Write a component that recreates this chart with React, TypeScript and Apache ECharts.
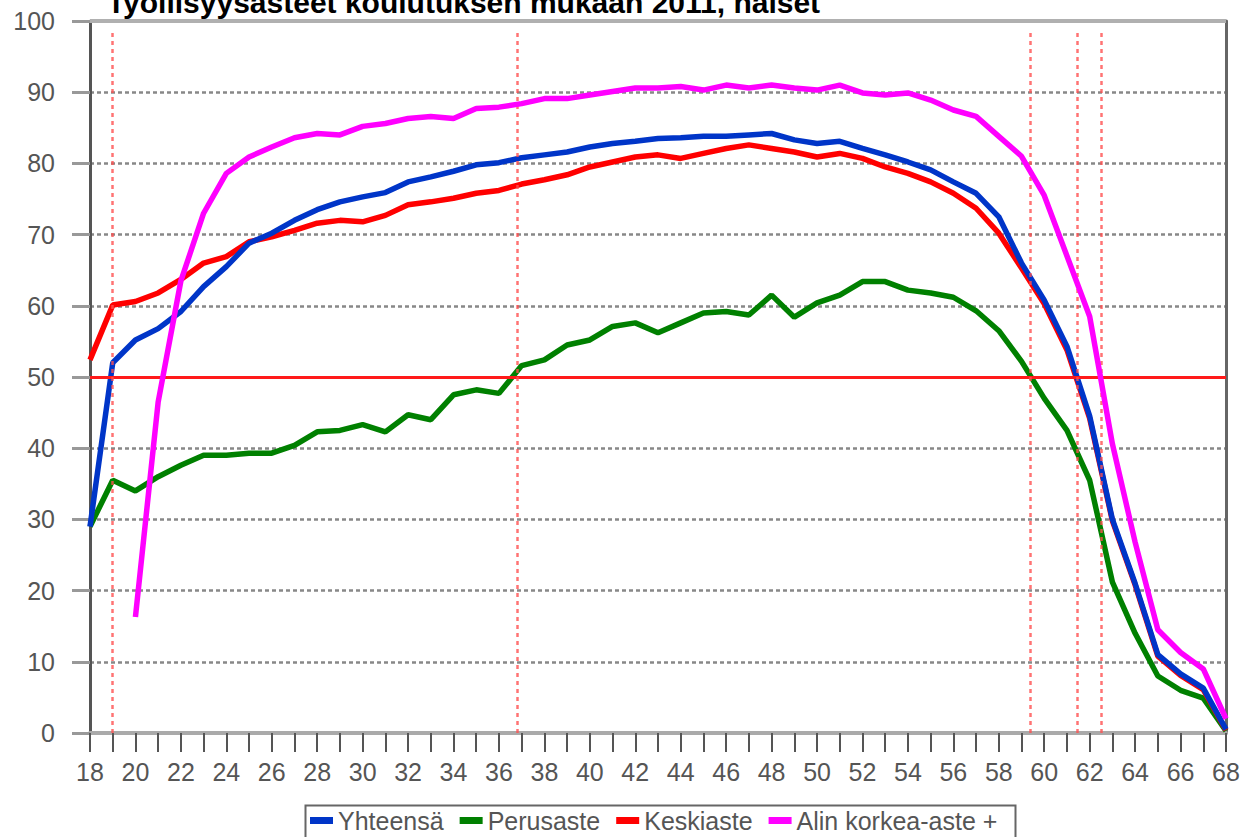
import React, { useEffect, useRef } from "react";
import * as echarts from "echarts";

const titleText = "Työllisyysasteet koulutuksen mukaan 2011, naiset";

const ages = [
  18, 19, 20, 21, 22, 23, 24, 25, 26, 27, 28, 29, 30, 31, 32, 33, 34, 35, 36, 37,
  38, 39, 40, 41, 42, 43, 44, 45, 46, 47, 48, 49, 50, 51, 52, 53, 54, 55, 56, 57,
  58, 59, 60, 61, 62, 63, 64, 65, 66, 67, 68,
];

const seriesNames = ["Yhteensä", "Perusaste", "Keskiaste", "Alin korkea-aste +"];

const yhteensa = [
  29, 52, 55.2, 56.8, 59.2, 62.7, 65.5, 68.8, 70.2, 72, 73.5, 74.6, 75.3, 75.9, 77.4, 78.1, 78.9, 79.8, 80.1, 80.8,
  81.2, 81.6, 82.3, 82.8, 83.1, 83.5, 83.6, 83.8, 83.8, 84, 84.2, 83.3, 82.8, 83.1, 82.1, 81.2, 80.2, 79.1, 77.4, 75.8,
  72.5, 66, 60.8, 54.3, 44.5, 30, 21, 11, 8.3, 6.3, 0.5,
];

const perusaste = [
  29, 35.5, 34, 36, 37.6, 39, 39, 39.3, 39.3, 40.4, 42.3, 42.5, 43.3, 42.3, 44.7, 44, 47.5, 48.2, 47.7, 51.6,
  52.4, 54.5, 55.2, 57.1, 57.6, 56.2, 57.6, 59, 59.2, 58.7, 61.5, 58.4, 60.4, 61.5, 63.4, 63.4, 62.2, 61.8, 61.2, 59.3,
  56.5, 52.2, 47, 42.5, 35.5, 21.2, 14, 8, 6, 4.9, 0.3,
];

const keskiaste = [
  52.4, 60.1, 60.6, 61.8, 63.7, 66, 66.9, 69, 69.7, 70.6, 71.6, 72, 71.8, 72.7, 74.2, 74.6, 75.1, 75.8, 76.2, 77.1,
  77.7, 78.4, 79.5, 80.2, 80.9, 81.2, 80.7, 81.4, 82.1, 82.6, 82.1, 81.6, 80.9, 81.4, 80.7, 79.5, 78.6, 77.4, 75.8, 73.7,
  70.2, 65.3, 60.3, 53.8, 44.2, 29.8, 20.8, 10.8, 8.1, 6.1, 0.4,
];

const korkea = [
  null, null, 16.3, 46.5, 63.5, 73, 78.6, 80.9, 82.3, 83.6, 84.2, 84, 85.2, 85.6, 86.3, 86.6, 86.3, 87.7, 87.9, 88.4,
  89.1, 89.1, 89.6, 90.1, 90.6, 90.6, 90.8, 90.3, 91, 90.6, 91, 90.6, 90.3, 91, 89.9, 89.6, 89.9, 88.9, 87.5, 86.6,
  83.8, 81, 75.5, 67, 58.5, 40.6, 26.8, 14.5, 11.3, 9, 2,
];

// ages where the curves cross the 50 % level (vertical reference lines)
const crossingAges = [19, 36.8, 59.4, 61.45, 62.5];
const referenceLevel = 50;

const colors = ["#0035c8", "#008000", "#ff0000", "#ff00ff"];

const xTickLabels = [18, 20, 22, 24, 26, 28, 30, 32, 34, 36, 38, 40, 42, 44, 46, 48, 50, 52, 54, 56, 58, 60, 62, 64, 66, 68];

export default function App() {
  const ref = useRef<HTMLDivElement>(null);

  useEffect(() => {
    if (!ref.current) return;
    const chart = echarts.init(ref.current, undefined, { renderer: "svg" });

    const pairs = (vals: (number | null)[]) => ages.map((a, i) => [a, vals[i]]);
    const allValues = [yhteensa, perusaste, keskiaste, korkea];
    const zs = [4, 2, 3, 5];

    const markLine = {
      silent: true,
      symbol: ["none", "none"],
      label: { show: false },
      animation: false,
      data: [
        [
          { coord: [18, referenceLevel], lineStyle: { color: "#ff1a1a", width: 3, type: "solid" } },
          { coord: [68, referenceLevel] },
        ],
        ...crossingAges.map((a) => [
          { coord: [a, 98.3], lineStyle: { color: "rgba(255,80,80,0.8)", width: 2.5, type: [4, 4] } },
          { coord: [a, 0] },
        ]),
        [
          { coord: [18, 100], lineStyle: { color: "#b0b0b0", width: 4, type: "solid" } },
          { coord: [68, 100] },
        ],
      ],
    };

    const lineSeries = seriesNames.map((name, i) => ({
      name,
      type: "line",
      data: pairs(allValues[i]),
      showSymbol: false,
      symbol: "none",
      connectNulls: false,
      z: zs[i],
      color: colors[i],
      lineStyle: { color: colors[i], width: 5.5 },
      ...(i === 1 ? { markLine } : {}),
    }));

    const option = {
      animation: false,
      backgroundColor: "#ffffff",
      title: {
        text: titleText,
        left: 107,
        top: -13,
        padding: 0,
        textStyle: {
          fontFamily: "Liberation Sans, Arial, sans-serif",
          fontWeight: "bold",
          fontSize: 30,
          color: "#000000",
        },
      },
      grid: { left: 90, right: 21, top: 21, bottom: 104, containLabel: false },
      legend: {
        data: seriesNames,
        left: 310,
        top: 808,
        icon: "rect",
        itemWidth: 23,
        itemHeight: 7,
        itemGap: 16,
        selectedMode: false,
        padding: 0,
        textStyle: {
          fontFamily: "Liberation Sans, Arial, sans-serif",
          fontSize: 25,
          color: "#555555",
        },
      },
      graphic: [
        {
          type: "rect",
          left: 303,
          top: 803,
          shape: { width: 710, height: 60 },
          style: { fill: "none", stroke: "#666666", lineWidth: 2 },
          z: 0,
        },
      ],
      xAxis: {
        type: "value",
        min: 18,
        max: 68,
        interval: 1,
        axisLine: { show: true, onZero: false, lineStyle: { color: "#aaaaaa", width: 4 } },
        axisTick: { show: true, length: 19, lineStyle: { color: "#555555", width: 2 } },
        splitLine: { show: false },
        axisLabel: {
          margin: 26,
          fontFamily: "Liberation Sans, Arial, sans-serif",
          fontSize: 25,
          color: "#555555",
          formatter: (v: number) => (xTickLabels.indexOf(v) >= 0 ? String(v) : ""),
        },
      },
      yAxis: [
        {
          type: "value",
          min: 0,
          max: 100,
          interval: 10,
          axisLine: { show: true, onZero: false, lineStyle: { color: "#555555", width: 3 } },
          axisTick: { show: true, length: 18, lineStyle: { color: "#999999", width: 3 } },
          splitLine: { show: true, lineStyle: { color: "#888888", width: 2.5, type: [4, 3] } },
          axisLabel: {
            margin: 35,
            fontFamily: "Liberation Sans, Arial, sans-serif",
            fontSize: 25,
            color: "#555555",
          },
        },
        {
          type: "value",
          min: 0,
          max: 100,
          interval: 10,
          position: "right",
          axisLine: { show: true, onZero: false, lineStyle: { color: "#666666", width: 3 } },
          axisTick: { show: false },
          splitLine: { show: false },
          axisLabel: { show: false },
        },
      ],
      series: lineSeries,
    };

    chart.setOption(option as any);
    return () => chart.dispose();
  }, []);

  return (
    <div
      ref={ref}
      style={{ position: "fixed", left: 0, top: 0, width: 1247, height: 837, background: "#fff" }}
    />
  );
}
